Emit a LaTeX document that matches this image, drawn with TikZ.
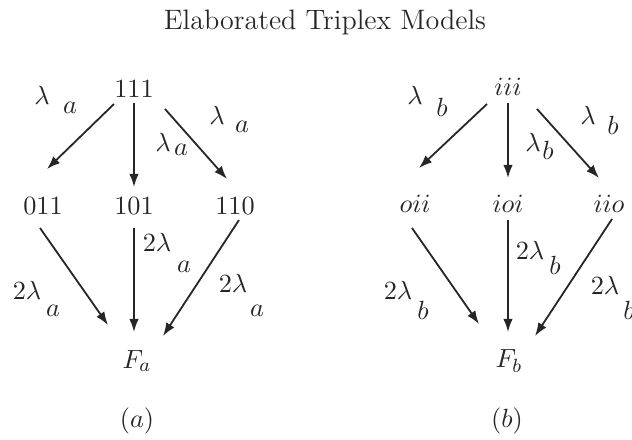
\documentclass[tikz,border=0pt]{standalone}
\usetikzlibrary{arrows.meta}
\begin{document}
\begin{tikzpicture}[x=0.41667pt,y=-0.41667pt,
  txt/.style={inner sep=0pt,text=black!85,font=\fontsize{11.2}{13}\selectfont},
  arr/.style={-{Latex[length=5.5pt,width=4pt]},line width=0.75pt,draw=black!85}]
\useasboundingbox (0,0) rectangle (632,439);
\node[txt,font=\fontsize{11.7}{14}\selectfont] (title) at (325,22) {Elaborated Triplex Models};
% panel a
\node[txt] (a111) at (134,89) {$111$};
\node[txt] (a011) at (43,206) {$011$};
\node[txt] (a101) at (134,206) {$101$};
\node[txt] (a110) at (235,206) {$110$};
\node[txt] (Fa) at (137,361) {$F_a$};
\node[txt] (capa) at (137,421) {$(a)$};
\draw[arr] ([shift={(-20,15)}]a111.center) -- ([shift={(4,-37)}]a011.center);
\draw[arr] ([shift={(0,14)}]a111.center) -- ([shift={(0,-19)}]a101.center);
\draw[arr] ([shift={(31,20)}]a111.center) -- ([shift={(-8,-27)}]a110.center);
\draw[arr] ([shift={(-3,22)}]a011.center) -- ([shift={(-29,-36)}]Fa.center);
\draw[arr] ([shift={(0,22)}]a101.center) -- ([shift={(-3,-29)}]Fa.center);
\draw[arr] ([shift={(4,14)}]a110.center) -- ([shift={(26,-25)}]Fa.center);
\node[txt] (la1) at (42,95) {$\lambda$};
\node[txt] (sa1) at (70,108) {$a$};
\node[txt] (la2) at (163,142) {$\lambda$};
\node[txt] (sa2) at (181,150) {$a$};
\node[txt] (la3) at (217,115) {$\lambda$};
\node[txt] (sa3) at (242,127) {$a$};
\node[txt] (la4) at (157,242) {$2\lambda$};
\node[txt] (sa4) at (184,267) {$a$};
\node[txt] (la5) at (27,290) {$2\lambda$};
\node[txt] (sa5) at (53,311) {$a$};
\node[txt] (la6) at (233,283) {$2\lambda$};
\node[txt] (sa6) at (257,311) {$a$};
% panel b
\node[txt] (biii) at (508,87) {$iii$};
\node[txt] (boii) at (415,204) {$oii$};
\node[txt] (bioi) at (508,204) {$ioi$};
\node[txt] (biio) at (609,204) {$iio$};
\node[txt] (Fb) at (509,361) {$F_b$};
\node[txt] (capb) at (507,421) {$(b)$};
\draw[arr] ([shift={(-21,17)}]biii.center) -- ([shift={(4,-36)}]boii.center);
\draw[arr] ([shift={(0,16)}]biii.center) -- ([shift={(0,-26)}]bioi.center);
\draw[arr] ([shift={(29,22)}]biii.center) -- ([shift={(-10,-26)}]biio.center);
\draw[arr] ([shift={(-3,24)}]boii.center) -- ([shift={(-30,-37)}]Fb.center);
\draw[arr] ([shift={(0,16)}]bioi.center) -- ([shift={(-1,-29)}]Fb.center);
\draw[arr] ([shift={(3,15)}]biio.center) -- ([shift={(26,-25)}]Fb.center);
\node[txt] (lb1) at (415,95) {$\lambda$};
\node[txt] (sb1) at (442,107) {$b$};
\node[txt] (lb2) at (533,142) {$\lambda$};
\node[txt] (sb2) at (548,150) {$b$};
\node[txt] (lb3) at (588,115) {$\lambda$};
\node[txt] (sb3) at (613,125) {$b$};
\node[txt] (lb4) at (530,250) {$2\lambda$};
\node[txt] (sb4) at (555,265) {$b$};
\node[txt] (lb5) at (398,290) {$2\lambda$};
\node[txt] (sb5) at (423,310) {$b$};
\node[txt] (lb6) at (605,285) {$2\lambda$};
\node[txt] (sb6) at (629,310) {$b$};
\end{tikzpicture}
\end{document}
